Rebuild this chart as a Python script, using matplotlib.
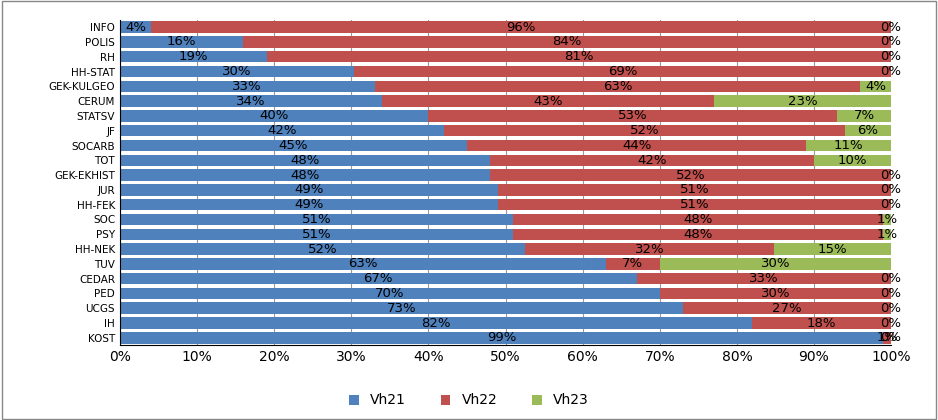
import matplotlib
matplotlib.use("Agg")
import matplotlib.pyplot as plt
import numpy as np

categories = ["INFO","POLIS","RH","HH-STAT","GEK-KULGEO","CERUM","STATSV","JF","SOCARB","TOT",
              "GEK-EKHIST","JUR","HH-FEK","SOC","PSY","HH-NEK","TUV","CEDAR","PED","UCGS","IH","KOST"]
vh21 = [4,16,19,30,33,34,40,42,45,48,48,49,49,51,51,52,63,67,70,73,82,99]
vh22 = [96,84,81,69,63,43,53,52,44,42,52,51,51,48,48,32,7,33,30,27,18,1]
vh23 = [0,0,0,0,4,23,7,6,11,10,0,0,0,1,1,15,30,0,0,0,0,0]
series = [("Vh21", vh21, "#4F81BD"), ("Vh22", vh22, "#C0504D"), ("Vh23", vh23, "#9BBB59")]

fig = plt.figure(figsize=(9.38, 4.2), dpi=100)
ax = fig.add_axes([0.128, 0.178, 0.822, 0.775])
n = len(categories)
y = np.arange(n)[::-1]
tot = np.array(vh21) + np.array(vh22) + np.array(vh23)
left = np.zeros(n)
for name, vals, col in series:
    w = np.array(vals) / tot
    ax.barh(y, w, left=left, color=col, height=0.78, label=name, edgecolor="none")
    for yi, l, wi, v in zip(y, left, w, vals):
        x = l + wi / 2 if v > 0 else l + wi
        if v == 0:
            x = 1.0
        ax.text(x, yi, f"{v}%", ha="center", va="center", fontsize=9.5, color="black")
    left += w
ax.set_xlim(0, 1)
ax.set_ylim(-0.5, n - 0.5)
ax.set_yticks(y)
ax.set_yticklabels(categories, fontsize=7.5)
ax.set_xticks(np.linspace(0, 1, 11))
ax.set_xticklabels([f"{i*10}%" for i in range(11)], fontsize=10)
ax.xaxis.grid(True, color="#999999", lw=0.8)
ax.set_axisbelow(True)
for s in ["top", "right"]:
    ax.spines[s].set_visible(False)
ax.tick_params(length=0)
fig.legend(loc="lower center", ncol=3, frameon=False, fontsize=10, bbox_to_anchor=(0.5, 0.0),
           handlelength=0.7, handleheight=0.7, columnspacing=2.5)
fig.patches.append(plt.Rectangle((0.002, 0.002), 0.996, 0.996, transform=fig.transFigure,
                                 fill=False, edgecolor="#888888", lw=1))
fig.savefig("out.png")
